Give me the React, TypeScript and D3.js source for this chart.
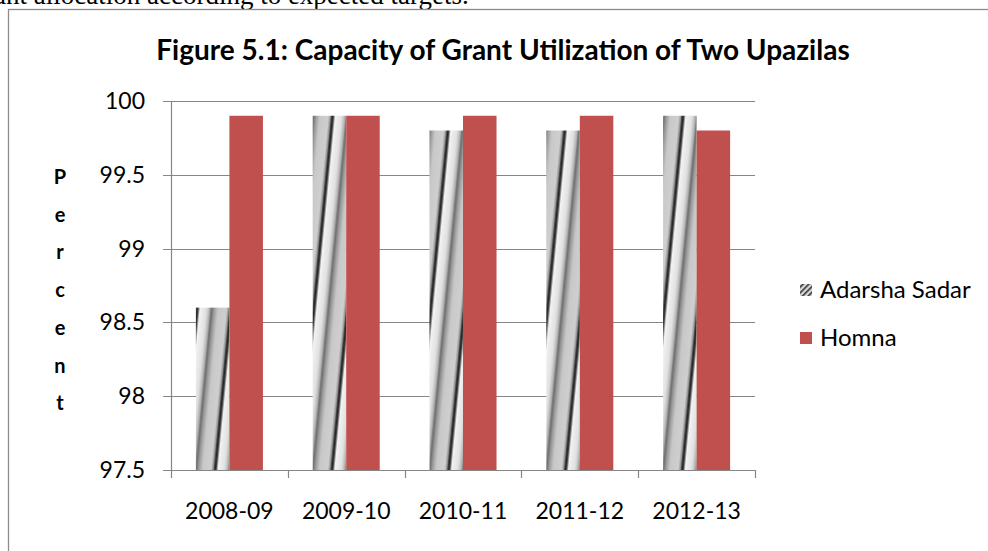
import React from 'react';
import * as d3 from 'd3';

// data
const years = ['2008-09', '2009-10', '2010-11', '2011-12', '2012-13'];
const seriesNames = ['Adarsha Sadar', 'Homna'];
const adarsha = [98.6, 99.9, 99.8, 99.8, 99.9];
const homna = [99.9, 99.9, 99.9, 99.9, 99.8];
const yTicks = [97.5, 98, 98.5, 99, 99.5, 100];
const yLetters = ['P', 'e', 'r', 'c', 'e', 'n', 't'];

const W = 988;
const H = 551;
const FONT = 'Lato, "Open Sans", sans-serif';
const GRID = '#868686';
const RED = '#C0504D';

// stops for the grey diagonal texture of the first series
const stripeStops: [number, string][] = [
  [0, '#6a6a6a'], [0.08, '#9a9a9a'], [0.2, '#c8c8c8'], [0.45, '#cfcfcf'],
  [0.52, '#8a8a8a'], [0.56, '#1a1a1a'], [0.6, '#3a3a3a'], [0.66, '#f2f2f2'],
  [0.85, '#e0e0e0'], [0.95, '#b0b0b0'], [1, '#6a6a6a'],
];

export default function App() {
  const left = 171, right = 755, top = 101, bottom = 470;

  const x = d3.scaleBand<string>().domain(years).range([left, right]).paddingInner(0.426).paddingOuter(0.213);
  const xs = d3.scaleBand<string>().domain(seriesNames).range([0, x.bandwidth()]).padding(0);
  const y = d3.scaleLinear().domain([97.5, 100]).range([bottom, top]);
  const bw = xs.bandwidth();
  const skew = -5.5;

  const rows = years.map((yr, i) => ({ yr, a: adarsha[i], h: homna[i] }));

  return (
    <div style={{ position: 'fixed', left: 0, top: 0 }}>
      <svg width={W} height={H} style={{ display: 'block', background: '#fff' }}>
        <defs>
          <linearGradient id="stripeGrad" x1="0" x2="1" y1="0" y2="0">
            {stripeStops.map(([o, c], i) => <stop key={i} offset={o} stopColor={c} />)}
          </linearGradient>
          {rows.map((d, i) => {
            const x0 = (x(d.yr) as number) + (xs('Adarsha Sadar') as number);
            return (
              <pattern key={i} id={`tex${i}`} patternUnits="userSpaceOnUse" x={0} y={0} width={bw} height={600}
                patternTransform={`translate(${x0},${bottom}) skewX(${skew})`}>
                <rect x={0} y={0} width={bw} height={600} fill="url(#stripeGrad)" />
                <rect x={0} y={-600} width={bw} height={600} fill="url(#stripeGrad)" />
              </pattern>
            );
          })}
          <pattern id="legTex" patternUnits="userSpaceOnUse" width={4} height={4} patternTransform="rotate(45)">
            <rect width={4} height={4} fill="#d8d8d8" />
            <rect width={1.6} height={4} fill="#333" />
          </pattern>
        </defs>

        {/* paragraph text above the chart, clipped by the page top */}
        <text x={-6} y={4} fontFamily='"Liberation Serif", "Times New Roman", serif' fontSize={27} fill="#000">
          ant allocation according to expected targets.
        </text>

        {/* chart area border */}
        <rect x={8.5} y={9.5} width={W + 20} height={H + 20} fill="none" stroke="#8c8c8c" strokeWidth={1.3} />

        <text x={503} y={60} textAnchor="middle" fontFamily={FONT} fontWeight="bold" fontSize={28} fill="#000">
          Figure 5.1: Capacity of Grant Utilization of Two Upazilas
        </text>

        {/* gridlines and y ticks */}
        {yTicks.map(t => (
          <g key={t}>
            <line x1={163} x2={right} y1={Math.round(y(t)) + 0.5} y2={Math.round(y(t)) + 0.5} stroke={GRID} strokeWidth={1.2} />
            <text x={145} y={y(t) + 8} textAnchor="end" fontFamily={FONT} fontSize={23} fill="#000">{t}</text>
          </g>
        ))}

        {/* bars */}
        {rows.map((d, i) => {
          const gx = x(d.yr) as number;
          return (
            <g key={d.yr}>
              <rect x={gx + (xs('Adarsha Sadar') as number)} y={y(d.a)} width={bw} height={bottom - y(d.a)} fill={`url(#tex${i})`} />
              <rect x={gx + (xs('Homna') as number)} y={y(d.h)} width={bw} height={bottom - y(d.h)} fill={RED} />
            </g>
          );
        })}

        {/* axes */}
        <line x1={left + 0.5} x2={left + 0.5} y1={top} y2={bottom} stroke={GRID} strokeWidth={1.2} />
        <line x1={163} x2={right} y1={bottom + 0.5} y2={bottom + 0.5} stroke={GRID} strokeWidth={1.2} />
        {d3.range(years.length + 1).map(i => {
          const tx = Math.round(left + i * x.step()) + 0.5;
          return <line key={i} x1={tx} x2={tx} y1={bottom} y2={478} stroke={GRID} strokeWidth={1.2} />;
        })}
        {years.map(yr => (
          <text key={yr} x={(x(yr) as number) + x.bandwidth() / 2} y={519} textAnchor="middle" fontFamily={FONT} fontSize={23} fill="#000">{yr}</text>
        ))}

        {/* vertical axis title, one letter per line */}
        {yLetters.map((c, i) => (
          <text key={i} x={60} y={184 + i * 37.7} textAnchor="middle" fontFamily={FONT} fontWeight="bold" fontSize={20} fill="#000">{c}</text>
        ))}

        {/* legend */}
        <rect x={800} y={284} width={12} height={12} fill="url(#legTex)" />
        <text x={820} y={298} fontFamily={FONT} fontSize={24} fill="#000">{seriesNames[0]}</text>
        <rect x={800} y={332} width={12} height={12} fill={RED} />
        <text x={820} y={346} fontFamily={FONT} fontSize={24} fill="#000">{seriesNames[1]}</text>
      </svg>
    </div>
  );
}
